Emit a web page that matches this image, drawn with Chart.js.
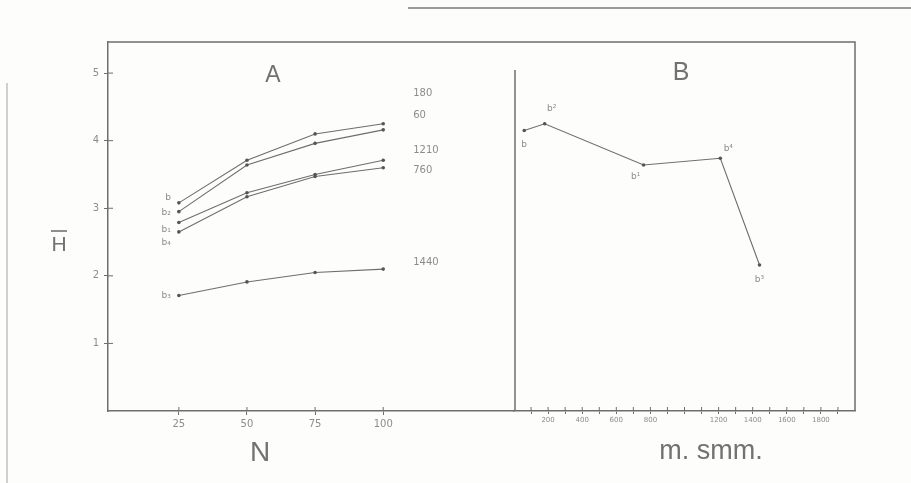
<!DOCTYPE html>
<html><head><meta charset="utf-8">
<script src="https://cdn.jsdelivr.net/npm/chart.js@4.4.1/dist/chart.umd.min.js"></script>
<style>
html,body{margin:0;padding:0;background:#fdfdfb;width:911px;height:483px;overflow:hidden}
canvas{position:absolute;left:0;top:0}
</style></head><body>
<canvas id="ca" width="911" height="483"></canvas>
<canvas id="cb" width="911" height="483"></canvas>
<script>
// ---------- data ----------
const sampleSizes = [25, 50, 75, 100];           // N
const depthLabels = ['180', '60', '1210', '760', '1440'];
const stationLabelsA = ['b', 'b₂', 'b₁', 'b₄', 'b₃'];
const h180  = [3.08, 3.71, 4.10, 4.25];
const h60   = [2.95, 3.64, 3.96, 4.16];
const h1210 = [2.79, 3.23, 3.50, 3.71];
const h760  = [2.65, 3.17, 3.47, 3.60];
const h1440 = [1.71, 1.91, 2.05, 2.10];
const yTicks = [1, 2, 3, 4, 5];
const nTicks = [25, 50, 75, 100];

const depthsB = [60, 180, 760, 1210, 1440];      // m
const hB = [4.15, 4.25, 3.64, 3.74, 2.16];
const stationLabelsB = ['b', 'b²', 'b¹', 'b⁴', 'b³'];
const depthTicks = [100,200,300,400,500,600,700,800,900,1000,1100,1200,1300,1400,1500,1600,1700,1800,1900];
const depthTickLabels = ['200','400','600','800','1200','1400','1600','1800'];

// ---------- style ----------
const INK = '#6e6e6e';
const TXT = '#8c8c8c';
const rightLabelY = [4.70, 4.38, 3.85, 3.565, 2.20];   // label anchors (H units)
const leftLabelY  = [3.15, 2.93, 2.68, 2.49, 1.70];
const bLabelOff = [[0,14],[7,-15],[-8,12],[8,-10],[0,15]];

const seriesA = [h180, h60, h1210, h760, h1440];

function ds(vals, xs) {
  return {
    data: vals.map((v, i) => ({x: xs[i], y: v})),
    borderColor: INK, borderWidth: 1.1, backgroundColor: INK,
    pointRadius: 1.8, pointBackgroundColor: '#555', pointBorderWidth: 0,
    showLine: true, tension: 0
  };
}

const innerTicks = {
  id: 'innerTicks',
  afterDraw(chart, args, opts) {
    const ctx = chart.ctx; ctx.save();
    ctx.strokeStyle = INK; ctx.lineWidth = 1;
    const ca = chart.chartArea;
    (opts.axes || []).forEach(id => {
      const s = chart.scales[id];
      s.ticks.forEach(t => {
        const p = s.getPixelForValue(t.value);
        ctx.beginPath();
        if (s.isHorizontal()) { ctx.moveTo(p, ca.bottom); ctx.lineTo(p, ca.bottom - 4); }
        else { ctx.moveTo(ca.left, p); ctx.lineTo(ca.left + 5, p); }
        ctx.stroke();
      });
    });
    ctx.restore();
  }
};

const annotA = {
  id: 'annotA',
  afterDraw(chart) {
    const ctx = chart.ctx, xs = chart.scales.x, ys = chart.scales.y;
    ctx.save();
    ctx.fillStyle = TXT; ctx.textBaseline = 'middle';
    ctx.font = '10px "DejaVu Sans"'; ctx.textAlign = 'left';
    depthLabels.forEach((l, i) => ctx.fillText(l, xs.getPixelForValue(100) + 30, ys.getPixelForValue(rightLabelY[i])));
    ctx.font = '9px "DejaVu Sans"'; ctx.textAlign = 'right';
    stationLabelsA.forEach((l, i) => ctx.fillText(l, xs.getPixelForValue(25) - 8, ys.getPixelForValue(leftLabelY[i])));
    // titles
    ctx.fillStyle = '#727272'; ctx.textAlign = 'center';
    ctx.font = '23px "Liberation Sans"';
    ctx.fillText('A', 273, 76);
    ctx.font = '28px "Liberation Sans"';
    ctx.fillText('N', 260, 453);
    ctx.font = '21px "Liberation Sans"';
    ctx.fillText('H', 59, 245);
    ctx.strokeStyle = '#727272'; ctx.lineWidth = 1.6;
    ctx.beginPath(); ctx.moveTo(51, 231); ctx.lineTo(67, 231); ctx.stroke();
    // scan edge lines
    ctx.strokeStyle = '#9a9a9a'; ctx.lineWidth = 2;
    ctx.beginPath(); ctx.moveTo(408, 8); ctx.lineTo(911, 8); ctx.stroke();
    ctx.strokeStyle = '#d0d0d0'; ctx.lineWidth = 2;
    ctx.beginPath(); ctx.moveTo(7, 83); ctx.lineTo(7, 483); ctx.stroke();
    // frame top
    ctx.strokeStyle = INK; ctx.lineWidth = 1.5;
    ctx.beginPath(); ctx.moveTo(108, 42); ctx.lineTo(855, 42); ctx.lineTo(855, 411); ctx.stroke();
    ctx.restore();
  }
};

const annotB = {
  id: 'annotB',
  afterDraw(chart) {
    const ctx = chart.ctx, xs = chart.scales.x, ys = chart.scales.y, ca = chart.chartArea;
    ctx.save();
    ctx.strokeStyle = INK; ctx.lineWidth = 1.5;
    ctx.beginPath(); ctx.moveTo(ca.left + 1, 70); ctx.lineTo(ca.left + 1, ca.bottom); ctx.stroke();
    ctx.fillStyle = TXT; ctx.textBaseline = 'middle'; ctx.textAlign = 'center';
    ctx.font = '9px "DejaVu Sans"';
    stationLabelsB.forEach((l, i) => ctx.fillText(l, xs.getPixelForValue(depthsB[i]) + bLabelOff[i][0], ys.getPixelForValue(hB[i]) + bLabelOff[i][1]));
    ctx.fillStyle = '#727272';
    ctx.font = '25px "Liberation Sans"';
    ctx.fillText('B', 681, 73);
    ctx.font = '27px "Liberation Sans"';
    ctx.fillText('m. smm.', 711, 452);
    ctx.restore();
  }
};

const commonTick = {color: TXT, font: {family: 'DejaVu Sans', size: 10}};

new Chart(document.getElementById('ca'), {
  type: 'scatter',
  data: { datasets: seriesA.map(s => ds(s, sampleSizes)) },
  options: {
    responsive: false, animation: false, devicePixelRatio: 1,
    layout: { padding: { top: 42, right: 397, left: 0, bottom: 0 } },
    plugins: { legend: {display: false}, tooltip: {enabled: false}, innerTicks: {axes: ['x', 'y']} },
    scales: {
      x: {
        type: 'linear', min: -1, max: 148,
        afterBuildTicks: s => { s.ticks = nTicks.map(v => ({value: v})); },
        afterFit: s => { s.height = 72; },
        ticks: {...commonTick, padding: 3, callback: v => String(v), maxRotation: 0, autoSkip: false},
        grid: {drawOnChartArea: false, tickLength: 4, color: INK},
        border: {display: true, color: INK, width: 1.5}
      },
      y: {
        type: 'linear', min: 0, max: 5.46,
        afterBuildTicks: s => { s.ticks = yTicks.map(v => ({value: v})); },
        afterFit: s => { s.width = 108; },
        ticks: {...commonTick, padding: 5, callback: v => String(v)},
        grid: {drawOnChartArea: false, tickLength: 4, color: INK},
        border: {display: true, color: INK, width: 1.5}
      }
    }
  },
  plugins: [innerTicks, annotA]
});

new Chart(document.getElementById('cb'), {
  type: 'scatter',
  data: { datasets: [ds(hB, depthsB)] },
  options: {
    responsive: false, animation: false, devicePixelRatio: 1,
    layout: { padding: { top: 42, right: 56, left: 0, bottom: 0 } },
    plugins: { legend: {display: false}, tooltip: {enabled: false}, innerTicks: {axes: ['x']} },
    scales: {
      x: {
        type: 'linear', min: 0, max: 2000,
        afterBuildTicks: s => { s.ticks = depthTicks.map(v => ({value: v})); },
        afterFit: s => { s.height = 72; },
        ticks: {color: TXT, font: {family: 'DejaVu Sans', size: 7}, padding: 2, maxRotation: 0, autoSkip: false,
                callback: v => depthTickLabels.includes(String(v)) ? String(v) : ''},
        grid: {drawOnChartArea: false, tickLength: 3, color: INK},
        border: {display: true, color: INK, width: 1.5}
      },
      y: {
        type: 'linear', min: 0, max: 5.46,
        afterBuildTicks: s => { s.ticks = []; },
        afterFit: s => { s.width = 514; },
        ticks: {display: false},
        grid: {display: false},
        border: {display: false}
      }
    }
  },
  plugins: [innerTicks, annotB]
});
</script>
</body></html>
